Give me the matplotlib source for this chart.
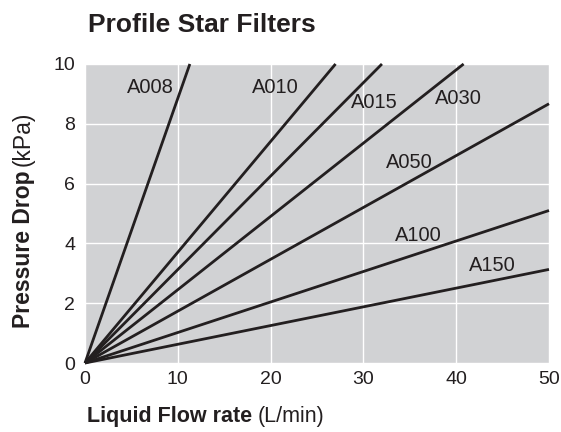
import matplotlib.pyplot as plt
import numpy as np

plt.rcParams['font.family'] = ['Liberation Sans', 'DejaVu Sans']

# filter models and the flow rate (L/min) at which each reaches 10 kPa,
# or the pressure drop (kPa) each shows at 50 L/min
models = ['A008', 'A010', 'A015', 'A030', 'A050', 'A100', 'A150']
end_flow = [11.3, 27.0, 32.0, 40.8, 50.0, 50.0, 50.0]
end_drop = [10.0, 10.0, 10.0, 10.0, 8.67, 5.1, 3.13]

# label positions (flow, drop)
label_x = [7.0, 20.5, 31.2, 40.2, 35.0, 35.9, 43.9]
label_y = [9.2, 9.2, 8.7, 8.85, 6.7, 4.25, 3.27]

x_ticks = [0, 10, 20, 30, 40, 50]
y_ticks = [0, 2, 4, 6, 8, 10]

fig = plt.figure(figsize=(5.61, 4.32), dpi=100)
ax = fig.add_axes([0.1515, 0.1597, 0.8271, 0.6922])
ax.set_facecolor('#d1d2d4')

for i, name in enumerate(models):
    ax.plot([0, end_flow[i]], [0, end_drop[i]], color='#231f20', lw=2.0,
            solid_capstyle='butt', clip_on=False, zorder=3)
    ax.text(label_x[i], label_y[i], name, ha='center', va='center',
            fontsize=14.5, color='#231f20', zorder=4)

ax.set_xlim(0, 50)
ax.set_ylim(0, 10)
ax.set_xticks(x_ticks)
ax.set_yticks(y_ticks)
ax.grid(True, color='white', lw=1.0)
ax.set_axisbelow(True)
for s in ax.spines.values():
    s.set_visible(False)
ax.tick_params(length=0, labelsize=14, colors='#231f20', pad=6)
ax.tick_params(axis='y', pad=7)

fig.text(0.157, 0.926, 'Profile Star Filters', fontsize=19,
         fontweight='bold', color='#231f20', va='baseline')

# x label: bold part then normal part
fig.canvas.draw()
renderer = fig.canvas.get_renderer()
t1 = fig.text(0.155, 0.022, 'Liquid Flow rate', fontsize=15.5,
              fontweight='bold', color='#231f20', va='baseline')
bb = t1.get_window_extent(renderer)
fig.text(bb.x1 / fig.dpi / 5.61 + 0.01, 0.022, '(L/min)', fontsize=15.5,
         color='#231f20', va='baseline')

t2 = fig.text(0.041, 0.241, 'Pressure Drop', fontsize=16.5, fontweight='bold',
              color='#231f20', rotation=90, ha='center', va='bottom')
bb = t2.get_window_extent(renderer)
fig.text(0.041, bb.y1 / fig.dpi / 4.32 + 0.01, '(kPa)', fontsize=16.5,
         color='#231f20', rotation=90, ha='center', va='bottom')

fig.savefig('out.png', dpi=100)
